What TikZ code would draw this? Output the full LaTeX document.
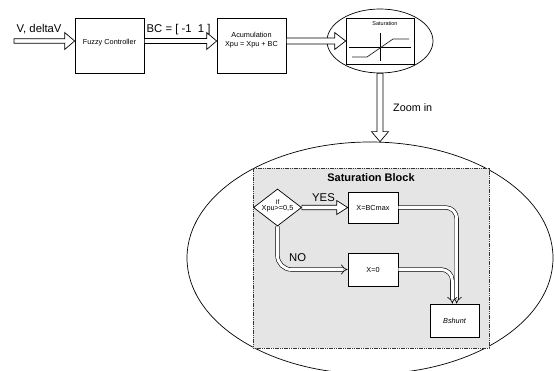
\documentclass[tikz,border=0pt]{standalone}
\usepackage{fontspec}
\setmainfont{Liberation Sans}
\usetikzlibrary{calc,shapes.geometric,arrows.meta}
% horizontal hollow arrow: from, to, body half, head half, head length
\newcommand\hollowArrowR[5]{%
  \draw[hollow] ($(#1)+(0,#3)$) -- ($(#2)+(-#5,#3)$) -- ($(#2)+(-#5,#4)$) -- (#2)
    -- ($(#2)+(-#5,-#4)$) -- ($(#2)+(-#5,-#3)$) -- ($(#1)+(0,-#3)$) -- cycle;}
% downward hollow arrow
\newcommand\hollowArrowD[5]{%
  \draw[hollow] ($(#1)+(#3,0)$) -- ($(#2)+(#3,-#5)$) -- ($(#2)+(#4,-#5)$) -- (#2)
    -- ($(#2)+(-#4,-#5)$) -- ($(#2)+(-#3,-#5)$) -- ($(#1)+(-#3,0)$) -- cycle;}
\tikzset{
  box/.style={draw, line width=0.7pt, fill=white, inner sep=0, font=\fontsize{7.3}{8}\selectfont},
  hollow/.style={draw, fill=white, line width=0.7pt, line join=miter},
  dbl/.style={line width=0.6pt, double=white, double distance=3pt, -{Implies}},
  lbl/.style={inner sep=0, font=\fontsize{7.3}{8}\selectfont},
  big/.style={inner sep=0, font=\fontsize{11.3}{13}\selectfont},
  oval/.style={ellipse, draw, line width=0.7pt, inner sep=0},
}
\begin{document}
\begin{tikzpicture}[x=1pt, y=-1pt]
\useasboundingbox (0,0) rectangle (554,371);
\clip (0,0) rectangle (554,371);
\fill[white] (0,0) rectangle (554,371);

% big zoom ellipse and saturation block
\node[oval, minimum width=366, minimum height=232] (bigell) at (370,258) {};
\node[draw=black!80, fill=gray!20, line width=0.6pt, dash pattern=on 1.2pt off 0.6pt,
      minimum width=236, minimum height=180, inner sep=0] (blk) at (371,258) {};
\node[inner sep=0, font=\fontsize{11}{13}\selectfont\bfseries, anchor=base] (blktitle) at (371,182) {Saturation Block};

% top row
\node[oval, minimum width=106, minimum height=64] (satell) at (380,41) {};
\node[box, minimum width=69, minimum height=55] (fc) at (109.5,45.5) {};
\node[lbl, anchor=base] (fctxt) at (109.5,44.3) {Fuzzy Controller};
\node[box, minimum width=69, minimum height=55] (acc) at (251.5,45.5) {};
\node[lbl, anchor=base] (acc1) at (251.5,37.6) {Acumulation};
\node[lbl, anchor=base] (acc2) at (251.5,46.6) {Xpu = Xpu + BC};
\node[box, minimum width=68, minimum height=46] (sat) at (380,41) {};
\node[inner sep=0, font=\fontsize{5.5}{6}\selectfont, anchor=base] (sattxt) at (385,26) {Saturation};
\draw[line width=0.6pt] (349,47) -- (411,47);
\draw[line width=0.6pt] (380,33) -- (380,61);
\draw[line width=0.7pt, black!85] (352,57) -- (367,57) -- (393,39) -- (409,39);

\coordinate (vin) at (14,41);
\hollowArrowR{vin}{fc.west |- vin}{2.3}{8.5}{10}
\hollowArrowR{fc.east |- vin}{acc.west |- vin}{2.5}{8.5}{10}
\hollowArrowR{acc.east |- vin}{sat.west}{3}{8.5}{11}
\node[big, anchor=base west] (tv) at (16.5,32.3) {V, deltaV};
\node[big, anchor=base west] (tbc) at (146.5,32.3) {BC = [ -1\ \ 1 ]};

\hollowArrowD{satell.south}{satell.south |- bigell.north}{3}{8.5}{10}
\node[inner sep=0, font=\fontsize{10.8}{12}\selectfont, anchor=base west] (zoom) at (393,111.5) {Zoom in};

% inside the saturation block
\node[diamond, draw, line width=0.7pt, fill=white, inner sep=0, minimum width=48, minimum height=37] (dia) at (277.5,207.5) {};
\node[inner sep=0, font=\fontsize{6.5}{7}\selectfont, anchor=base] (iftxt) at (277.5,204.3) {If};
\node[inner sep=0, font=\fontsize{7.3}{8}\selectfont, anchor=base] (condtxt) at (277.5,210.8) {Xpu>=0,5};
\node[box, minimum width=50, minimum height=31] (bcmax) at (373,207.5) {X=BCmax};
\node[box, minimum width=50, minimum height=33] (x0) at (373,269.5) {X=0};
\node[box, minimum width=49, minimum height=33, font=\fontsize{7.3}{8}\selectfont\itshape] (bsh) at (454.5,320.5) {Bshunt};

\hollowArrowR{dia.east}{bcmax.west}{2.3}{7}{11}
\node[big, anchor=base west] (yes) at (312,201.5) {YES};
\node[big, anchor=base west] (no) at (289,262) {NO};

\draw[dbl, rounded corners=14pt] (dia.south) |- (x0.west);
\draw[dbl, rounded corners=11pt] (bcmax.east) -| ([xshift=2.2pt]bsh.north);
\draw[dbl, rounded corners=11pt] (x0.east) -| ([xshift=-2.2pt]bsh.north);
\end{tikzpicture}
\end{document}
